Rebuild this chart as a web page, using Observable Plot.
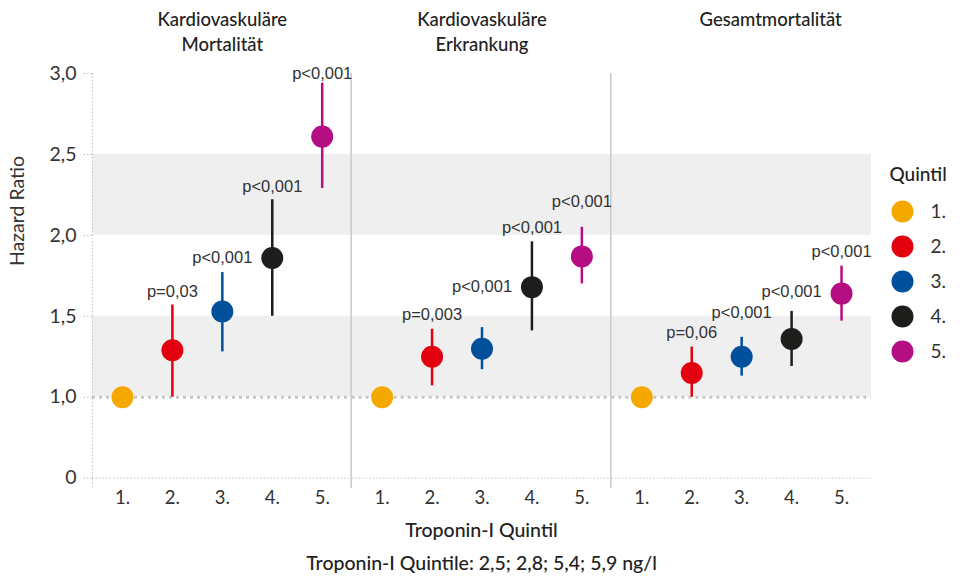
<!DOCTYPE html>
<html><head><meta charset="utf-8">
<script src="https://cdn.jsdelivr.net/npm/d3@7"></script>
<script src="https://cdn.jsdelivr.net/npm/@observablehq/plot@0.6"></script>
<style>
body{margin:0;background:#fff;}
#wrap{position:relative;width:960px;height:577px;font-family:Lato,sans-serif;color:#222;}
#wrap svg{position:absolute;}
.cap{position:absolute;left:0;width:963px;text-align:center;font-size:19.5px;font-weight:500;line-height:22px;color:#222;}
</style></head><body><div id="wrap"></div>
<script>
// ---- data ----
const panels = ["Kardiovaskuläre Mortalität", "Kardiovaskuläre Erkrankung", "Gesamtmortalität"];
const panelTitles = ["Kardiovaskuläre\nMortalität", "Kardiovaskuläre\nErkrankung", "Gesamtmortalität"];
const quintiles = ["1.", "2.", "3.", "4.", "5."];
const colors = ["#F5A800", "#E3000F", "#00509B", "#1D1D1B", "#B50D82"];
const hr     = [[1.00, 1.29, 1.53, 1.86, 2.61], [1.00, 1.25, 1.30, 1.68, 1.87], [1.00, 1.15, 1.25, 1.36, 1.64]];
const ciLow  = [[null, 1.00, 1.28, 1.50, 2.29], [null, 1.07, 1.17, 1.41, 1.70], [null, 1.00, 1.13, 1.19, 1.47]];
const ciHigh = [[null, 1.57, 1.77, 2.22, 2.94], [null, 1.42, 1.43, 1.96, 2.05], [null, 1.31, 1.37, 1.53, 1.81]];
const pValues = [[null, "p=0,03", "p<0,001", "p<0,001", "p<0,001"],
                 [null, "p=0,003", "p<0,001", "p<0,001", "p<0,001"],
                 [null, "p=0,06", "p<0,001", "p<0,001", "p<0,001"]];
const pLabelAt = [[null, 1.65, 1.86, 2.30, 3.00], [null, 1.51, 1.68, 2.05, 2.21], [null, 1.40, 1.52, 1.65, 1.90]];
const yTicks = [0.5, 1, 1.5, 2, 2.5, 3];
const yTickLabels = ["0", "1,0", "1,5", "2,0", "2,5", "3,0"];
const bands = [[1, 1.5], [2, 2.5]];
const yLabel = "Hazard Ratio";
const xLabel = "Troponin-I Quintil";
const caption = "Troponin-I Quintile: 2,5; 2,8; 5,4; 5,9 ng/l";
const legendTitle = "Quintil";

// ---- tables ----
const rows = panels.flatMap((panel, i) => quintiles.map((q, j) => ({
  panel, q, hr: hr[i][j], lo: ciLow[i][j], hi: ciHigh[i][j], p: pValues[i][j], pAt: pLabelAt[i][j]
})));
const titleRows = panels.map((panel, i) => ({panel, title: panelTitles[i]}));

const font = "Lato, 'Open Sans', sans-serif";
const pFont = "'Liberation Sans', Arial, sans-serif";

const main = Plot.plot({
  width: 960, height: 577,
  marginLeft: 92, marginRight: 89, marginTop: 73, marginBottom: 89,
  style: {fontFamily: font, fontSize: "18px", color: "#333", background: "transparent", overflow: "visible"},
  fx: {domain: panels, padding: 0, axis: null, round: false},
  x: {type: "point", domain: quintiles, padding: 0.6, round: false},
  y: {domain: [0.436, 3.0]},
  color: {domain: quintiles, range: colors},
  marks: [
    Plot.rectY(bands, {y1: d => d[0], y2: d => d[1], fill: "#efefef"}),
    Plot.ruleY([yTicks[0]], {stroke: "#c4c4c4", strokeDasharray: "1.5,2"}),
    Plot.ruleY([1], {stroke: "#c8c8c8", strokeWidth: 3, strokeDasharray: "3,4"}),
    Plot.ruleX([panels[0]], {fx: d => d, x: () => quintiles[0], dx: -30, stroke: "#c4c4c4", strokeDasharray: "1.5,2"}),
    Plot.ruleX(panels.slice(1), {fx: d => d, x: () => quintiles[0], dx: -31, stroke: "#c8c8c8", strokeWidth: 1.5}),
    Plot.axisY({ticks: yTicks, tickFormat: d => yTickLabels[yTicks.indexOf(d)], tickSize: 10, tickPadding: 6,
      stroke: "#bbb", strokeDasharray: "1.5,2", fill: "#333", fontSize: 19.5, label: null}),
    Plot.axisX({anchor: "bottom", tickSize: 0, tickPadding: 2, fill: "#333", fontSize: 18.5, label: null}),
    Plot.ruleX(rows.filter(d => d.lo != null), {fx: "panel", x: "q", y1: "lo", y2: "hi", stroke: "q", strokeWidth: 2.5}),
    Plot.dot(rows, {fx: "panel", x: "q", y: "hr", fill: "q", r: 11}),
    Plot.text(rows.filter(d => d.p), {fx: "panel", x: "q", y: "pAt", text: "p", fontFamily: pFont, fontSize: 16.5, fill: "#333"}),
    Plot.text(titleRows.slice(0, 2), {fx: "panel", text: "title", frameAnchor: "top", lineAnchor: "top", dy: -65,
      lineHeight: 1.35, fontSize: 18.5, fontWeight: 500, fill: "#222"}),
    Plot.text(titleRows.slice(2), {fx: "panel", text: "title", frameAnchor: "top", lineAnchor: "top", dy: -65, dx: 29,
      lineHeight: 1.35, fontSize: 18.5, fontWeight: 500, fill: "#222"}),
    Plot.text([yLabel], {fx: () => panels[0], frameAnchor: "left", dx: -75, dy: -15, rotate: -90, fontSize: 19.5, fill: "#333"})
  ]
});
main.style.left = "0px"; main.style.top = "0px";

const legend = Plot.plot({
  width: 80, height: 230,
  marginLeft: 0, marginRight: 0, marginTop: 71, marginBottom: 19,
  style: {fontFamily: font, fontSize: "18px", color: "#333", background: "transparent", overflow: "visible"},
  x: {domain: [0, 1], axis: null},
  y: {type: "point", domain: quintiles, padding: 0, axis: null},
  color: {domain: quintiles, range: colors},
  marks: [
    Plot.text([legendTitle], {frameAnchor: "top-left", dx: 9, dy: -44, fontSize: 19, fontWeight: 500, fill: "#222"}),
    Plot.dot(quintiles, {y: d => d, fill: d => d, r: 11, frameAnchor: "left", dx: 22}),
    Plot.text(quintiles, {y: d => d, text: d => d, frameAnchor: "left", dx: 50, textAnchor: "start", fontSize: 19, fill: "#333"})
  ]
});
legend.style.left = "880px"; legend.style.top = "140px";

const wrap = document.getElementById("wrap");
wrap.appendChild(main);
wrap.appendChild(legend);
const c1 = document.createElement("div"); c1.className = "cap"; c1.style.top = "519px"; c1.textContent = xLabel;
const c2 = document.createElement("div"); c2.className = "cap"; c2.style.top = "552px"; c2.textContent = caption;
wrap.appendChild(c1); wrap.appendChild(c2);
</script>
</body></html>
